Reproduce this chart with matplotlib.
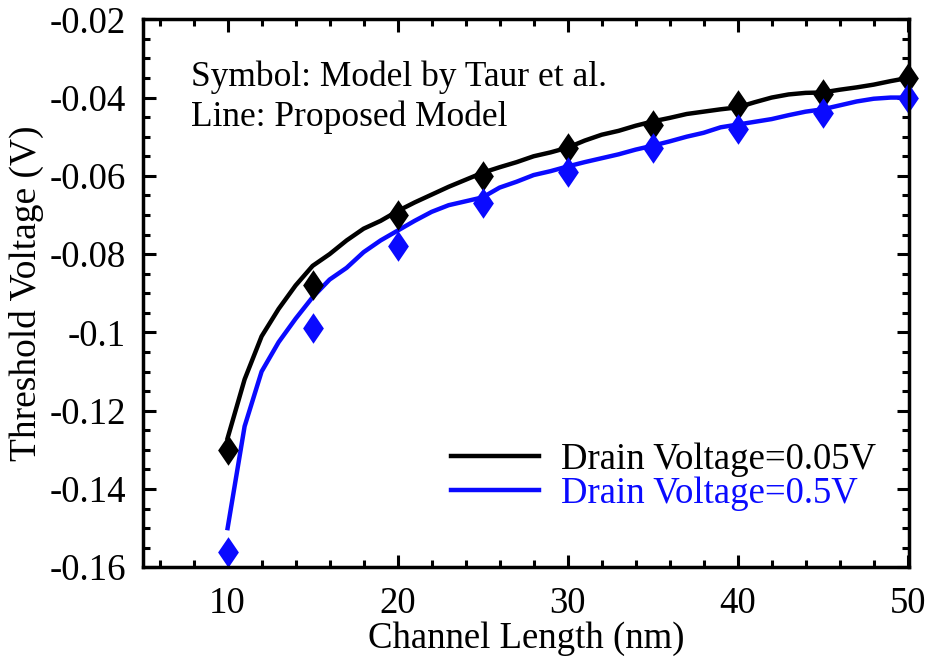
import matplotlib
matplotlib.use("Agg")
import matplotlib.pyplot as plt
from matplotlib.path import Path
from matplotlib.ticker import MultipleLocator

# Symbol data: Taur et al. model
sym_len = [10, 15, 20, 25, 30, 35, 40, 45, 50]
sym_vth_005 = [-0.130, -0.088, -0.070, -0.060, -0.053, -0.047, -0.042, -0.039, -0.035]
sym_vth_05 = [-0.156, -0.099, -0.078, -0.067, -0.059, -0.053, -0.048, -0.044, -0.040]

# Line data: proposed model, 1 nm steps
line_len = list(range(10, 51))
line_vth_005 = [-0.127, -0.112, -0.101, -0.094, -0.088, -0.083, -0.080, -0.0765, -0.0735, -0.0715,
                -0.069, -0.0668, -0.0648, -0.0628, -0.061, -0.0592, -0.0578, -0.0565, -0.055, -0.054,
                -0.0528, -0.051, -0.0495, -0.0485, -0.0472, -0.0461, -0.0452, -0.0442, -0.0436, -0.043,
                -0.0425, -0.0412, -0.0400, -0.0392, -0.0388, -0.0387, -0.0380, -0.0374, -0.0367, -0.0358,
                -0.0350]
line_vth_05 = [-0.150, -0.124, -0.110, -0.1025, -0.0965, -0.091, -0.0865, -0.0835, -0.0795, -0.0765,
               -0.074, -0.0715, -0.0692, -0.0675, -0.0665, -0.0655, -0.063, -0.0615, -0.0598, -0.0588,
               -0.0576, -0.0565, -0.0555, -0.0545, -0.0533, -0.0523, -0.0512, -0.0500, -0.0490, -0.0476,
               -0.0469, -0.0462, -0.0455, -0.0445, -0.0436, -0.0430, -0.0420, -0.0410, -0.0403, -0.0400,
               -0.0400]

labels = ["Drain Voltage=0.05V", "Drain Voltage=0.5V"]
colors = ["black", "#0a0aff"]

# slightly narrow diamond
diamond = Path([(0, 1), (0.68, 0), (0, -1), (-0.68, 0), (0, 1)],
               [Path.MOVETO, Path.LINETO, Path.LINETO, Path.LINETO, Path.CLOSEPOLY])

plt.rcParams["font.family"] = ["Liberation Serif", "DejaVu Serif"]

fig = plt.figure(figsize=(9.26, 6.65), dpi=100)
ax = fig.add_axes([0.154, 0.147, 0.828, 0.824])

ax.plot(line_len, line_vth_005, color=colors[0], lw=3.2, label=labels[0])
ax.plot(line_len, line_vth_05, color=colors[1], lw=3.2, label=labels[1])
ax.plot(sym_len, sym_vth_005, ls="none", marker=diamond, color=colors[0], ms=22, mew=0, clip_on=False)
ax.plot(sym_len, sym_vth_05, ls="none", marker=diamond, color=colors[1], ms=22, mew=0, clip_on=False)

ax.set_xlim(5, 50.1)
ax.set_ylim(-0.16, -0.02)
ax.xaxis.set_minor_locator(MultipleLocator(2))
ax.yaxis.set_minor_locator(MultipleLocator(0.005))
ax.set_yticks([-0.02, -0.04, -0.06, -0.08, -0.1, -0.12, -0.14, -0.16])
ax.set_yticklabels(["-0.02", "-0.04", "-0.06", "-0.08", "-0.1", "-0.12", "-0.14", "-0.16"])
ax.set_xticks([10, 20, 30, 40, 50])

ax.tick_params(which="both", direction="in", top=True, right=True, labelsize=26.5, width=2.2)
ax.tick_params(which="major", length=9)
ax.tick_params(axis="y", which="major", pad=12)
ax.tick_params(axis="x", which="major", pad=14)
ax.tick_params(which="minor", length=5)
for sp in ax.spines.values():
    sp.set_linewidth(2.5)

ax.set_xlabel("Channel Length (nm)", fontsize=26.5, labelpad=0)
ax.set_ylabel("Threshold Voltage (V)", fontsize=27, labelpad=4)

ax.text(0.063, 0.895, "Symbol: Model by Taur et al.", transform=ax.transAxes, fontsize=25.5,
        va="center")
ax.text(0.063, 0.822, "Line: Proposed Model", transform=ax.transAxes, fontsize=25.5,
        va="center")

leg = ax.legend(loc="lower right", bbox_to_anchor=(1.0, 0.042), frameon=False, fontsize=26.5,
                handlelength=2.4, handletextpad=0.6, labelspacing=0.0)
for txt, c in zip(leg.get_texts(), colors):
    txt.set_color(c)

fig.savefig("out.png", dpi=100)
